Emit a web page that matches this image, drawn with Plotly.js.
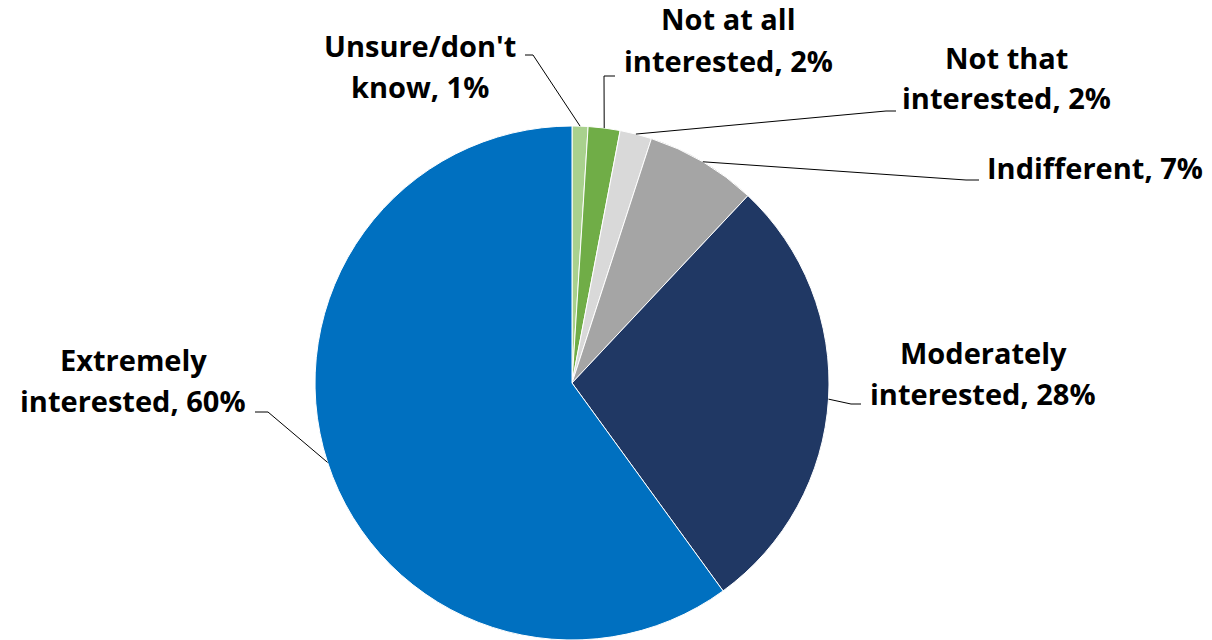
<!DOCTYPE html>
<html>
<head>
<meta charset="utf-8">
<script src="https://cdn.plot.ly/plotly-3.0.1.min.js"></script>
<style>html,body{margin:0;padding:0;background:#fff}#chart{width:1212px;height:640px}</style>
</head>
<body>
<div id="chart"></div>
<script>
// ---- data ----
const categories = ["Unsure/don't know", "Not at all interested", "Not that interested", "Indifferent", "Moderately interested", "Extremely interested"];
const values = [1, 2, 2, 7, 28, 60];
const colors = ["#a9d18e", "#70ad47", "#d9d9d9", "#a5a5a5", "#203864", "#0070c0"];
// label text split into lines (as shown in the chart)
const labelLines = [
  ["Unsure/don't", "know, 1%"],
  ["Not at all", "interested, 2%"],
  ["Not that", "interested, 2%"],
  ["Indifferent, 7%"],
  ["Moderately", "interested, 28%"],
  ["Extremely", "interested, 60%"]
];

// ---- layout config (pixels) ----
const W = 1212, H = 640;
const CX = 572, CY = 383, R = 257;
// label centres (first line) and line gap
const labelPos = [[420, 45], [728, 19], [1006, 57], [1095, 168], [983, 352], [133, 359]];
const lineGap = 41;
// leader bend points: [bendX, bendY, endX]
const bends = [[533, 55, 525], [604, 76, 615], [886, 111, 896], [966, 180, 979], [851, 404, 861], [268, 412, 255]];

const px = x => x / W;
const py = y => 1 - y / H;

const total = values.reduce((a, b) => a + b, 0);
let cum = 0;
const shapes = [];
const annotations = [];
values.forEach((v, i) => {
  const mid = (cum + v / 2) / total;
  cum += v;
  const th = mid * 2 * Math.PI;
  const ex = CX + R * Math.sin(th);
  const ey = CY - R * Math.cos(th);
  const [bx, by, hx] = bends[i];
  shapes.push({
    type: 'path', xref: 'paper', yref: 'paper',
    path: `M ${px(ex)} ${py(ey)} L ${px(bx)} ${py(by)} L ${px(hx)} ${py(by)}`,
    line: {color: '#000', width: 1}
  });
  labelLines[i].forEach((t, j) => {
    annotations.push({
      text: '<b>' + t + '</b>', showarrow: false, xref: 'paper', yref: 'paper',
      x: px(labelPos[i][0]), y: py(labelPos[i][1] + j * lineGap),
      xanchor: 'center', yanchor: 'middle',
      font: {family: 'Open Sans, Noto Sans, sans-serif', size: 29, color: '#000'}
    });
  });
});

const trace = {
  type: 'pie',
  labels: categories,
  values: values,
  sort: false,
  direction: 'clockwise',
  rotation: 0,
  textinfo: 'none',
  hoverinfo: 'label+percent',
  marker: {colors: colors, line: {color: '#ffffff', width: 1}},
  domain: {x: [px(CX - R), px(CX + R)], y: [py(CY + R), py(CY - R)]},
  showlegend: false
};

const layout = {
  width: W, height: H,
  margin: {l: 0, r: 0, t: 0, b: 0},
  paper_bgcolor: '#ffffff',
  showlegend: false,
  shapes: shapes,
  annotations: annotations
};

Plotly.newPlot('chart', [trace], layout, {displayModeBar: false, staticPlot: true});
</script>
</body>
</html>
